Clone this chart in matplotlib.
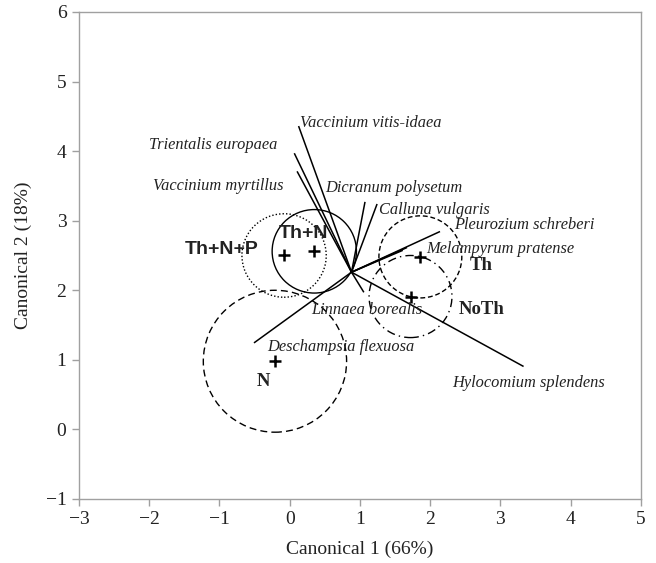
import numpy as np
from matplotlib import pyplot as plt
from matplotlib.patches import Circle

# treatment centroids and confidence circles
groups = ["Th+N+P", "Th+N", "Th", "NoTh", "N"]
group_x = [-0.08, 0.35, 1.86, 1.72, -0.21]
group_y = [2.50, 2.56, 2.48, 1.91, 0.98]
group_r = [0.60, 0.60, 0.59, 0.59, 1.02]

# species vectors (all start at the same origin)
origin = (0.88, 2.26)
species = ["Vaccinium vitis-idaea", "Trientalis europaea", "Vaccinium myrtillus",
           "Dicranum polysetum", "Calluna vulgaris", "Pleurozium schreberi",
           "Melampyrum pratense", "", "Linnaea borealis", "Deschampsia flexuosa",
           "Hylocomium splendens"]
sp_x = [0.13, 0.07, 0.11, 1.07, 1.24, 2.13, 1.66, 1.60, 1.05, -0.50, 3.32]
sp_y = [4.35, 3.96, 3.70, 3.26, 3.23, 2.84, 2.61, 2.57, 1.98, 1.25, 0.91]

# label placement
sp_lab = [(0.15, 4.41, "left"), (-0.18, 4.09, "right"), (-0.09, 3.50, "right"),
          (0.51, 3.47, "left"), (1.27, 3.15, "left"), (2.34, 2.94, "left"),
          (1.94, 2.60, "left"), None, (0.30, 1.72, "left"), (-0.32, 1.18, "left"),
          (2.32, 0.67, "left")]
grp_lab = [(-1.50, 2.59), (-0.16, 2.82), (2.57, 2.36), (2.40, 1.72), (-0.47, 0.69)]
styles = [(0, (1, 1.5)), "-", (0, (3.5, 2)), (0, (6, 3, 1, 3)), (0, (5, 3))]

plt.rcParams['font.family'] = ['Liberation Serif', 'DejaVu Serif']
fig = plt.figure(figsize=(6.56, 5.63), dpi=100)
ax = fig.add_axes([0.1204, 0.1137, 0.8566, 0.865])

for i in range(len(species)):
    ax.plot([origin[0], sp_x[i]], [origin[1], sp_y[i]], color='black', lw=1.1)
    if sp_lab[i] is not None:
        lx, ly, ha = sp_lab[i]
        ax.text(lx, ly, species[i], style='italic', fontsize=11.8, ha=ha, va='center',
                color='#222222')

for i in range(len(groups)):
    ax.add_patch(Circle((group_x[i], group_y[i]), group_r[i], fill=False,
                        edgecolor='black', lw=1.0, linestyle=styles[i]))
    lx, ly = grp_lab[i]
    if groups[i].startswith("Th+"):
        ax.text(lx, ly, groups[i], fontsize=14, fontweight='bold', ha='left', va='center',
                family=['Liberation Sans'], color='#222222')
    else:
        ax.text(lx, ly, groups[i], fontsize=13.5, fontweight='bold', ha='left', va='center',
                color='#222222')

ax.plot(group_x, group_y, '+', color='black', markersize=9, markeredgewidth=1.8)

ax.set_xlim(-3, 5)
ax.set_ylim(-1, 6)
ax.set_xticks(np.arange(-3, 6))
ax.set_yticks(np.arange(-1, 7))
ax.set_xticklabels([str(v).replace('-', '\u2212') for v in range(-3, 6)])
ax.set_yticklabels([str(v).replace('-', '\u2212') for v in range(-1, 7)])
for s in ax.spines.values():
    s.set_color('#a0a0a0')
    s.set_linewidth(1.0)
ax.tick_params(direction='out', length=5, width=1, color='#a0a0a0', labelsize=14,
               labelcolor='#222222', pad=4)
ax.set_xlabel("Canonical 1 (66%)", fontsize=14, color='#222222', labelpad=9)
ax.set_ylabel("Canonical 2 (18%)", fontsize=14, color='#222222', labelpad=10)

fig.savefig("out.png", dpi=100)
